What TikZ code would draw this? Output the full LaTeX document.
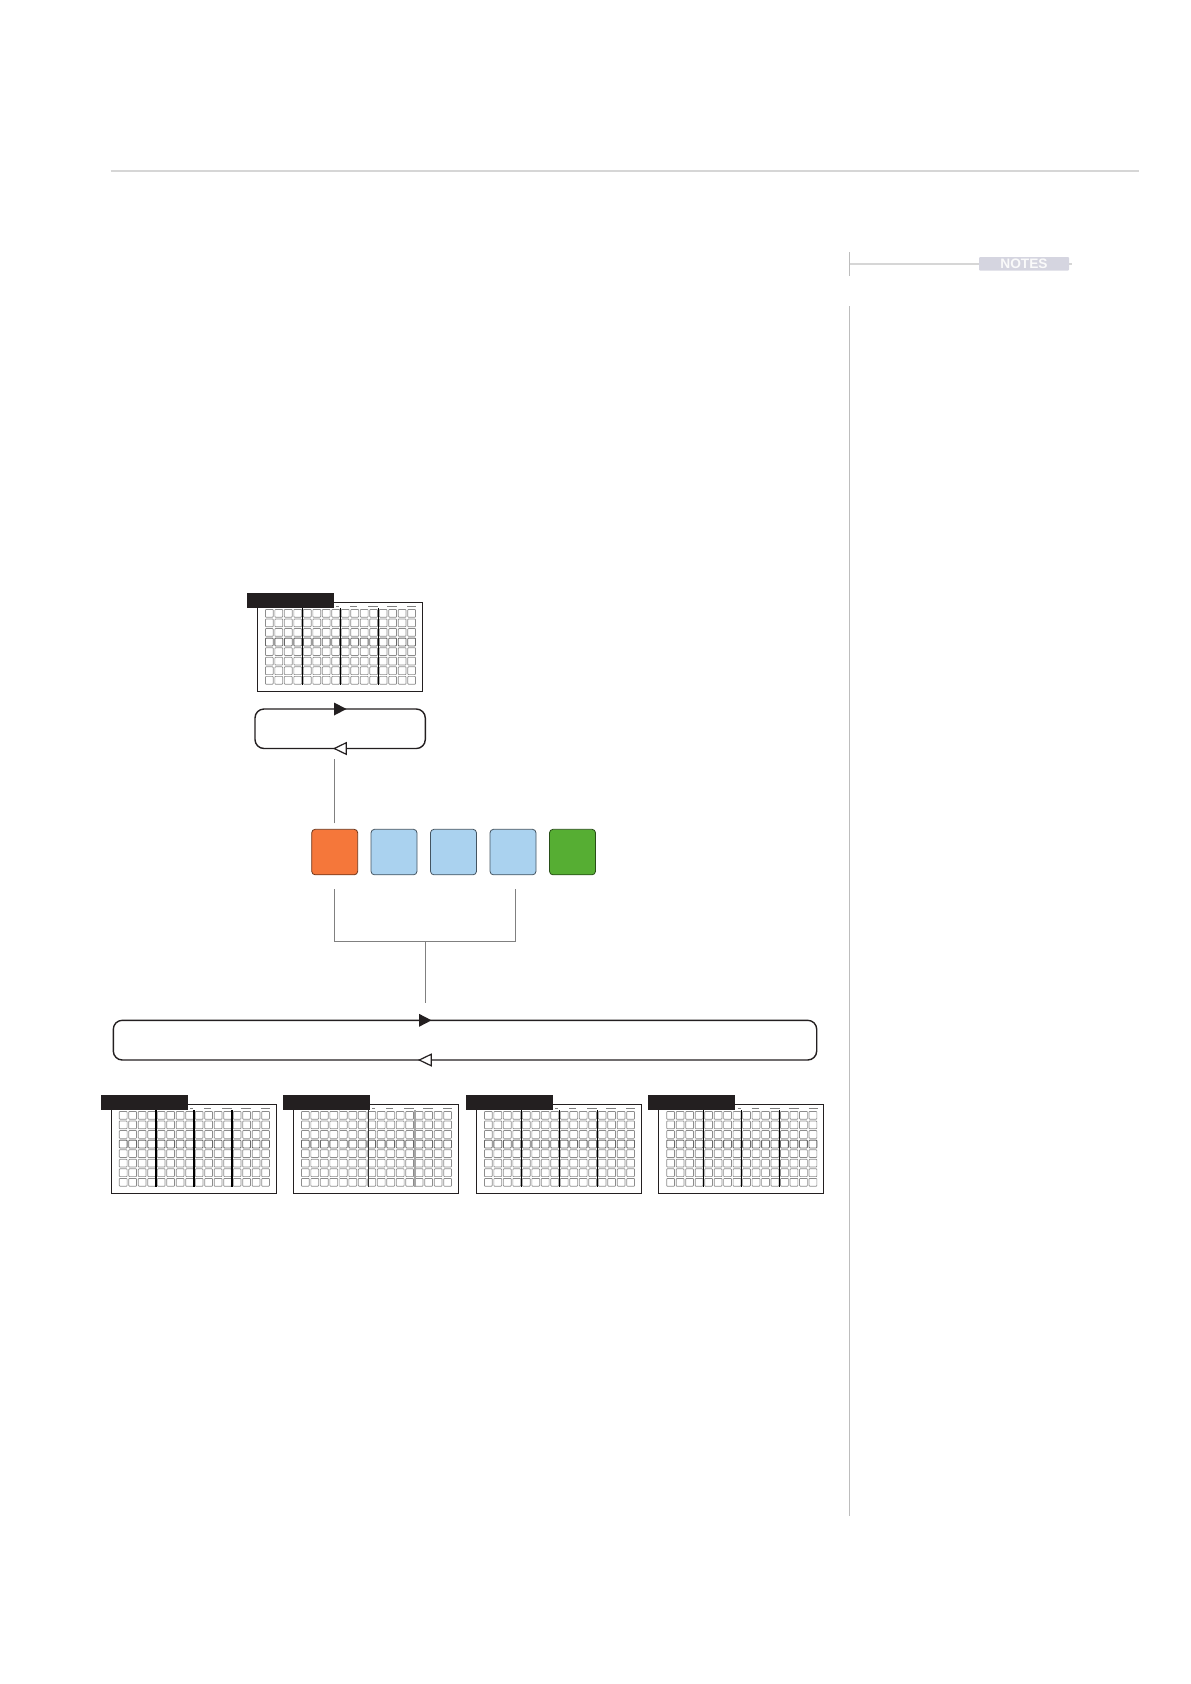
\documentclass[tikz,border=0pt]{standalone}
\usepackage{fontspec}
\setmainfont{Liberation Sans}
\definecolor{inkblack}{HTML}{231F20}
\definecolor{rulegray}{HTML}{D6D6D6}
\definecolor{sidegray}{HTML}{BDBDBD}
\definecolor{badgegray}{HTML}{D5D5E0}
\definecolor{orangebox}{HTML}{F5773A}
\definecolor{bluebox}{HTML}{AAD2EF}
\definecolor{greenbox}{HTML}{56AE33}
\definecolor{connector}{HTML}{808080}
\tikzset{
  x=1pt,y=-1pt,
  panelbox/.style={draw=inkblack,fill=white,line width=1.2pt,rectangle,inner sep=0pt,outer sep=0pt,minimum width=165.2pt,minimum height=89pt,anchor=north west},
  panelhead/.style={fill=inkblack,rectangle,inner sep=0pt,outer sep=0pt,minimum width=87pt,minimum height=15pt,anchor=north west},
  cell/.style={draw=gray!90,line width=0.7pt,rounded corners=0.7pt},
  darkcell/.style={draw=black!60,line width=0.8pt,rounded corners=0.7pt},
  divider/.style={line width=1.5pt,draw=black},
  tickmark/.style={line width=0.4pt,draw=gray},
  loopbox/.style={draw=inkblack,line width=1.4pt,rectangle,rounded corners=9pt,inner sep=0pt,outer sep=0pt,anchor=north west},
  flagbox/.style={rectangle,rounded corners=3.5pt,inner sep=0pt,outer sep=0pt,minimum width=46pt,minimum height=45.5pt,anchor=north west,line width=0.8pt},
  conn/.style={draw=connector,line width=0.8pt},
  rulebar/.style={draw=rulegray,line width=1.8pt},
  sidebar/.style={draw=sidegray,line width=1.3pt},
  fwdhead/.style={fill=inkblack},
  backhead/.style={draw=inkblack,fill=white,line width=1.2pt},
}
% #1 name, #2 left, #3 top, #4 header left
\newcommand{\gridpanel}[4]{%
  \node[panelbox] (#1) at (#2,#3) {};
  \foreach \cc in {0,...,15}{\foreach \rr in {0,1,2,4,5,6,7}{%
    \draw[cell] ({#2+8.1+\cc*9.49},{#3+7.1+\rr*9.57}) rectangle +(7.8,7.8);
  }
    \draw[darkcell] ({#2+8.1+\cc*9.49},{#3+7.1+3*9.57}) rectangle +(7.8,7.8);
  }
  \foreach \aa/\bb in {79/82,93/100,111/121,130/140,150/159}{%
    \draw[tickmark] ({#2+\aa},{#3+3.7}) -- ({#2+\bb},{#3+3.7});
  }
  \node[panelhead] (#1head) at (#4,{#3-9.3}) {};
}
\newcommand{\dividers}[2]{%
  \foreach \dd in {45,83,121}{\draw[divider] ({#1+\dd},{#2+6}) -- ({#1+\dd},{#2+83});}
}
% #1 left x of head, #2 y
\newcommand{\fwdarrow}[2]{\fill[fwdhead] (#1,{#2-6.5}) -- ({#1+12.5},#2) -- (#1,{#2+6.5}) -- cycle;}
\newcommand{\backarrow}[2]{\draw[backhead] (#1,#2) -- ({#1+12},{#2-5.8}) -- ({#1+12},{#2+5.8}) -- cycle;}
\begin{document}
\begin{tikzpicture}
\useasboundingbox (0,0) rectangle (1191,1684);
% page furniture
\draw[rulebar] (110.7,170.7) -- (1139,170.7);
\draw[sidebar] (849.7,252) -- (849.7,276);
\draw[rulebar] (849.7,263.7) -- (1072,263.7);
\node[rectangle,fill=badgegray,rounded corners=1pt,inner sep=0pt,outer sep=0pt,minimum width=90pt,minimum height=13.7pt,anchor=north west,text=white!96!gray,font=\bfseries\fontsize{13.7}{14}\selectfont] (notes) at (979,257) {NOTES};
\draw[sidebar] (849.7,306) -- (849.7,1516);

% top panel
\gridpanel{top}{257.3}{602.3}{246.7}
\dividers{257.3}{602.3}

% small loop
\node[loopbox,minimum width=170.3pt,minimum height=39.5pt] (loopA) at (255,709) {};
\fwdarrow{334}{709}
\backarrow{334.3}{748.5}

% flags
\node[flagbox,fill=orangebox,draw=orangebox!45!black] (f1) at (311.7,829.3) {};
\node[flagbox,fill=bluebox,draw=bluebox!40!black] (f2) at (371,829.3) {};
\node[flagbox,fill=bluebox,draw=bluebox!40!black] (f3) at (430.5,829.3) {};
\node[flagbox,fill=bluebox,draw=bluebox!40!black] (f4) at (490,829.3) {};
\node[flagbox,fill=greenbox,draw=greenbox!45!black] (f5) at (549.5,829.3) {};

\draw[conn,shorten <=6pt,shorten >=10pt] (f1.north) -- (f1.north |- loopA.south);

% big loop
\node[loopbox,minimum width=703.4pt,minimum height=39.7pt] (loopB) at (113.3,1020.3) {};
\fwdarrow{419}{1020.3}
\backarrow{419.3}{1060}

% bracket
\coordinate (bL) at (334.5,889.3);
\coordinate (bR) at (515.3,889.3);
\coordinate (bJ) at (425.3,941.4);
\coordinate (bS) at (425.3,1003);
\draw[conn] (bL) |- (bJ);
\draw[conn] (bR) |- (bJ);
\draw[conn] (bJ) -- (bS);

% bottom panels
\gridpanel{pa}{111.2}{1104.3}{101}
\dividers{111.2}{1104.3}
\gridpanel{pb}{293.3}{1104.3}{282.7}
\draw[line width=1.2pt,draw=gray!35] (339.8,1110) -- (339.8,1187);
\draw[line width=0.9pt,draw=black!80] (368.3,1110) -- (368.3,1187);
\draw[line width=1.3pt,draw=gray!70] (415,1110) -- (415,1187);
\gridpanel{pc}{476.3}{1104.3}{466}
\dividers{476.3}{1104.3}
\gridpanel{pd}{658.6}{1104.3}{648}
\dividers{658.6}{1104.3}
\end{tikzpicture}
\end{document}
